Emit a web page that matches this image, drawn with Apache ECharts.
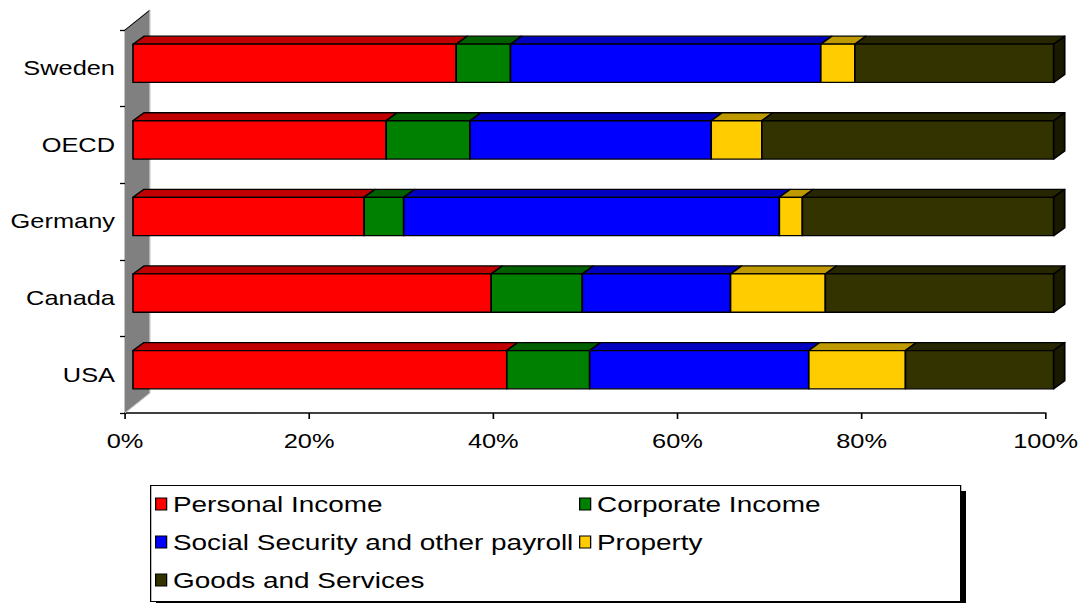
<!DOCTYPE html>
<html>
<head>
<meta charset="utf-8">
<script src="https://cdn.jsdelivr.net/npm/echarts@6/dist/echarts.min.js"></script>
<style>
html,body{margin:0;padding:0;background:#fff;overflow:hidden}
#wrap{width:1082px;height:603px;overflow:hidden}
#chart{height:603px;transform-origin:0 0}
</style>
</head>
<body>
<div id="wrap"><div id="chart"></div></div>
<script>
// Categories bottom-to-top
const categories = ['USA', 'Canada', 'Germany', 'OECD', 'Sweden'];
const seriesNames = ['Personal Income', 'Corporate Income', 'Social Security and other payroll', 'Property', 'Goods and Services'];
// Shares of total tax revenue (%)
const personalIncome = [40.6, 38.9, 25.1, 27.5, 35.1];
const corporateIncome = [9.0, 9.9, 4.3, 9.1, 5.9];
const socialSecurity = [23.8, 16.1, 40.8, 26.2, 33.7];
const property = [10.5, 10.3, 2.5, 5.5, 3.7];
const goodsServices = [16.1, 24.8, 27.3, 31.7, 21.6];
const xTicks = [0, 20, 40, 60, 80, 100];

// The reference image is horizontally stretched; reproduce by laying out
// on a narrower canvas and stretching it with CSS.
const W = 852;
const S = 1082 / W;
const el = document.getElementById('chart');
el.style.width = W + 'px';
el.style.transform = 'scaleX(' + S + ')';
const px = v => v / S; // convert on-screen horizontal px to layout px

const frontColors = ['#FF0000', '#008000', '#0000FF', '#FFCC00', '#333300'];
const topColors = ['#C00000', '#006000', '#0000C0', '#BF9900', '#262600'];
const sideColor = '#1A1A00';
const FONT = 'Liberation Sans, Arial, sans-serif';

const allSeries = [personalIncome, corporateIncome, socialSecurity, property, goodsServices];

function buildData(idx) {
  return categories.map((c, j) => {
    let total = 0, start = 0;
    allSeries.forEach((arr, k) => { total += arr[j]; if (k < idx) start += arr[j]; });
    return [j, allSeries[idx][j] / total * 100, start / total * 100];
  });
}

function makeRender(idx) {
  return function (params, api) {
    const cat = api.value(0), v = api.value(1), s = api.value(2);
    const p0 = api.coord([s, cat]);
    const p1 = api.coord([s + v, cat]);
    const band = api.size([0, 1])[1];
    const h = band * 0.5;
    const ox = px(8), oy = -5;
    const dx = px(11), dy = 8;
    const x0 = p0[0] + ox, x1 = p1[0] + ox;
    const yc = p0[1] + oy;
    const top = yc - h / 2, bot = yc + h / 2;
    const st = { stroke: '#000', lineWidth: 1.3, lineJoin: 'round' };
    const children = [
      { type: 'polygon', shape: { points: [[x0, top], [x1, top], [x1 + dx, top - dy], [x0 + dx, top - dy]] },
        style: Object.assign({ fill: topColors[idx] }, st) },
      { type: 'rect', shape: { x: x0, y: top, width: x1 - x0, height: h },
        style: Object.assign({ fill: frontColors[idx] }, st) }
    ];
    if (idx === allSeries.length - 1) {
      children.push({ type: 'polygon', shape: { points: [[x1, top], [x1 + dx, top - dy], [x1 + dx, bot - dy], [x1, bot]] },
        style: Object.assign({ fill: sideColor }, st) });
    }
    return { type: 'group', children };
  };
}

function wallRender(params, api) {
  const band = api.size([0, 1])[1];
  const b = api.coord([0, 0]);
  const t = api.coord([0, categories.length - 1]);
  const x = b[0];
  const yb = b[1] + band / 2, yt = t[1] - band / 2;
  const dx = px(25), dy = 20;
  return { type: 'group', children: [
    { type: 'polygon', shape: { points: [[x, yb], [x, yt], [x + dx, yt - dy], [x + dx, yb - dy]] }, style: { fill: '#808080' } },
    { type: 'line', shape: { x1: x, y1: yt, x2: x + dx, y2: yt - dy }, style: { stroke: '#000', lineWidth: 1 } },
    { type: 'line', shape: { x1: x + dx, y1: yt - dy, x2: x + dx, y2: yb - dy }, style: { stroke: '#d0d0d0', lineWidth: 1 } },
    { type: 'line', shape: { x1: x, y1: yb, x2: x + dx, y2: yb - dy }, style: { stroke: '#c8c8c8', lineWidth: 1 } }
  ] };
}

const series = [{
  type: 'custom', name: 'wall', renderItem: wallRender, data: [[0]], silent: true, z: 1,
  encode: { x: 0, y: 0 }
}];
seriesNames.forEach((n, i) => {
  series.push({
    type: 'custom', name: n, renderItem: makeRender(i), data: buildData(i), z: 2,
    itemStyle: { color: frontColors[i], borderColor: '#000', borderWidth: 1 },
    encode: { x: [1, 2], y: 0 }
  });
});

const legendCommon = {
  orient: 'vertical', top: 492, padding: 0, itemWidth: px(11), itemHeight: 12, itemGap: 14, icon: 'rect',
  textStyle: { fontFamily: FONT, fontSize: 22, color: '#000', lineHeight: 24 },
  itemStyle: { borderColor: '#000', borderWidth: 1 }
};

const chart = echarts.init(el, null, { renderer: 'svg', width: W, height: 603 });
chart.setOption({
  animation: false,
  backgroundColor: '#fff',
  grid: { left: px(125), right: px(33), top: 30, bottom: 190, containLabel: false },
  xAxis: {
    type: 'value', min: 0, max: 100, interval: 20,
    axisLine: { show: true, lineStyle: { color: '#000', width: 1.5 } },
    axisTick: { show: true, length: 6, lineStyle: { color: '#000', width: 1.3 } },
    splitLine: { show: false },
    axisLabel: { formatter: v => xTicks.includes(v) ? v + '%' : '', fontFamily: FONT, fontSize: 20, color: '#000', margin: 18 }
  },
  yAxis: {
    type: 'category', data: categories,
    axisLine: { show: true, lineStyle: { color: '#000', width: 1.5 } },
    axisTick: { show: true, length: px(5), lineStyle: { color: '#000', width: 1.3 } },
    axisLabel: { fontFamily: FONT, fontSize: 20, color: '#000', margin: px(10), padding: [4, 0, 0, 0] }
  },
  graphic: [
    { type: 'rect', left: px(156), top: 491, z: 0, silent: true,
      shape: { width: px(810), height: 116 }, style: { fill: '#000' } },
    { type: 'rect', left: px(150), top: 485, z: 0, silent: true,
      shape: { width: px(810), height: 116 }, style: { fill: '#fff', stroke: '#000', lineWidth: 1 } }
  ],
  legend: [
    Object.assign({ left: px(155), data: [seriesNames[0], seriesNames[2], seriesNames[4]] }, legendCommon),
    Object.assign({ left: px(579), data: [seriesNames[1], seriesNames[3]] }, legendCommon)
  ],
  series
});
</script>
</body>
</html>
